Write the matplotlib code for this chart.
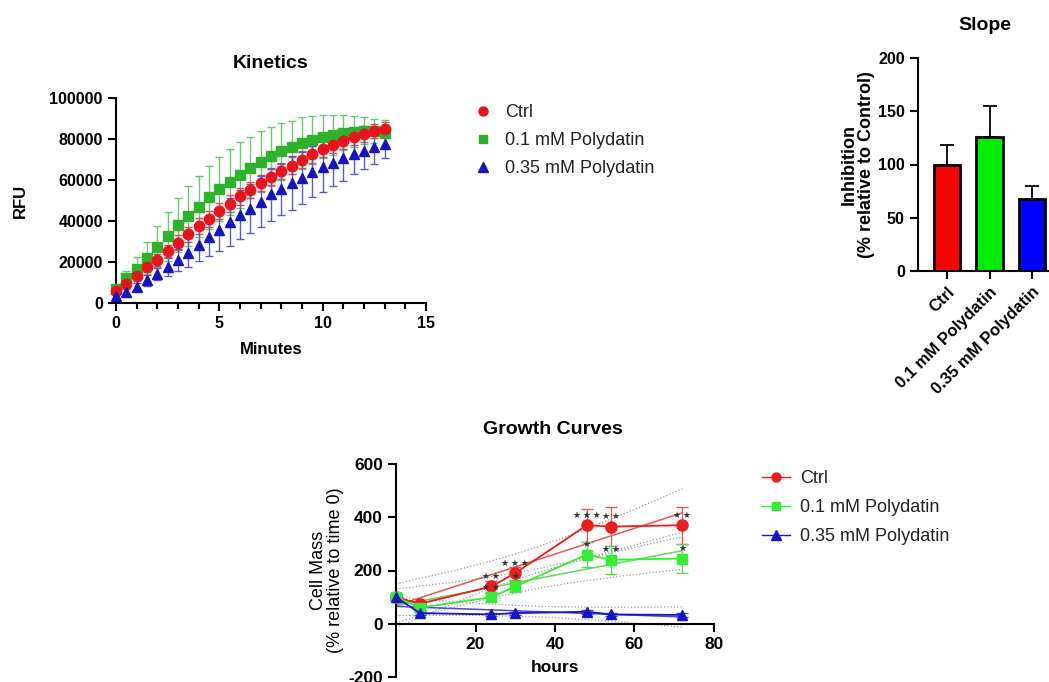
import numpy as np
import matplotlib
matplotlib.use("Agg")
import matplotlib.pyplot as plt
from matplotlib.lines import Line2D
from matplotlib.ticker import MultipleLocator

plt.rcParams['font.family'] = ['Liberation Sans', 'DejaVu Sans']
plt.rcParams['axes.unicode_minus'] = False

# ---- kinetics data ----
minutes = [0, 0.5, 1, 1.5, 2, 2.5, 3, 3.5, 4, 4.5, 5, 5.5, 6, 6.5,
           7, 7.5, 8, 8.5, 9, 9.5, 10, 10.5, 11, 11.5, 12, 12.5, 13]
ctrl_k = [6000, 9500, 13000, 17500, 21000, 25500, 29500, 33500, 37500, 41000,
          45000, 48500, 52000, 55000, 58500, 61500, 64500, 67000, 70000, 72500,
          75000, 77000, 79000, 81000, 82500, 84000, 85000]
ctrl_k_sd = [1000, 1500, 2000, 2500, 3000, 3000, 3500, 3500, 4000, 4000, 4000,
             4000, 4000, 4000, 4000, 4000, 4000, 4000, 4000, 4000, 4000, 4000,
             4000, 4000, 4000, 3500, 3500]
pd01_k = [7000, 12000, 16500, 22000, 27500, 32500, 38000, 42500, 47000, 51500,
          55500, 59000, 62500, 66000, 69000, 71500, 74000, 76000, 78000, 79500,
          81000, 82000, 83000, 83500, 84000, 84000, 83000]
pd01_k_sd = [2000, 3500, 6000, 8000, 10000, 12000, 13000, 14500, 15000, 15500,
             15500, 16000, 16000, 15000, 15000, 14500, 14000, 13000, 12500,
             11500, 10500, 9700, 8500, 7500, 6500, 6000, 6500]
pd035_k = [3500, 5500, 8000, 11000, 14000, 17500, 21000, 24500, 28500, 32000,
           35500, 39500, 43000, 46000, 49500, 53000, 55500, 58500, 61000, 64000,
           66500, 68500, 70500, 72500, 74000, 76000, 77500]
pd035_k_sd = [1000, 1500, 2000, 2500, 3000, 4500, 5500, 7000, 8000, 9000, 10000,
              11500, 12000, 12000, 12500, 13000, 12500, 13000, 12500, 12500,
              12500, 11500, 11000, 9500, 8500, 8000, 7000]

# ---- slope data ----
groups = ['Ctrl', '0.1 mM Polydatin', '0.35 mM Polydatin']
slope = [100, 126, 68]
slope_sd = [18, 29, 12]

# ---- growth data ----
hours = [0, 6, 24, 30, 48, 54, 72]
ctrl_g = [100, 75, 140, 190, 370, 365, 370]
ctrl_g_sd = [12, 10, 22, 25, 62, 72, 70]
pd01_g = [100, 60, 100, 140, 260, 240, 245]
pd01_g_sd = [12, 10, 15, 20, 48, 52, 55]
pd035_g = [100, 40, 35, 40, 45, 35, 33]
pd035_g_sd = [12, 8, 6, 6, 8, 6, 6]
ctrl_stars = [0, 0, 2, 3, 3, 2, 2]
pd01_stars = [0, 0, 2, 1, 1, 2, 1]

W, H = 1049, 682
fig = plt.figure(figsize=(W / 100, H / 100), dpi=100)


def box(x0, y0, x1, y1):
    return [x0 / W, 1 - y1 / H, (x1 - x0) / W, (y1 - y0) / H]


def style(ax, fs):
    for s in ['top', 'right']:
        ax.spines[s].set_visible(False)
    for s in ['left', 'bottom']:
        ax.spines[s].set_linewidth(1.5)
    ax.tick_params(width=1.5, length=6, labelsize=fs)
    for lab in ax.get_xticklabels() + ax.get_yticklabels():
        lab.set_fontweight('bold')
        lab.set_fontsize(fs)


# ================= Kinetics =================
ax1 = fig.add_axes(box(116, 98, 426, 303))
kin = [(pd01_k, pd01_k_sd, 's', '#2DB22D', '#6CC86C', 6.5),
       (ctrl_k, ctrl_k_sd, 'o', '#E8141C', '#D85050', 7.5),
       (pd035_k, pd035_k_sd, '^', '#1414C0', '#5A5AC8', 7)]
for y, sd, m, c, ec, ms in kin:
    ax1.errorbar(minutes, y, yerr=sd, fmt=m, color=c, ecolor=ec, ms=ms,
                 elinewidth=1, capsize=3, capthick=1, clip_on=False, zorder=3)
ax1.set_xlim(0, 15)
ax1.set_ylim(0, 100000)
ax1.set_xticks([0, 5, 10, 15])
ax1.xaxis.set_minor_locator(MultipleLocator(1))
ax1.set_yticks([0, 20000, 40000, 60000, 80000, 100000])
ax1.set_yticklabels(['0', '20000', '40000', '60000', '80000', '100000'])
style(ax1, 11.5)
ax1.tick_params(which='minor', width=1.5, length=4)
ax1.set_xlabel('Minutes', fontsize=12, fontweight='bold', va='center')
ax1.xaxis.set_label_coords(0.5, (303 - 349) / 205)
ax1.set_ylabel('RFU', fontsize=12, fontweight='bold', va='center')
ax1.yaxis.set_label_coords((20 - 116) / 310, 0.5)
fig.text(271 / W, 1 - 63 / H, 'Kinetics', fontsize=14, fontweight='bold',
         ha='center', va='center')

h1 = [Line2D([], [], ls='none', marker='o', color='#E8141C', ms=6.5),
      Line2D([], [], ls='none', marker='s', color='#2DB22D', ms=6),
      Line2D([], [], ls='none', marker='^', color='#1414C0', ms=6.5)]
fig.legend(h1, groups, loc='upper left', bbox_to_anchor=(474 / W, 1 - 104 / H),
           frameon=False, fontsize=13, handlelength=1, handletextpad=0.7,
           labelspacing=0.62, borderpad=0, borderaxespad=0, labelcolor='#222222')

# ================= Slope =================
ax2 = fig.add_axes(box(918, 58, 1061, 271))
xb = np.arange(len(groups))
ax2.bar(xb, slope, width=0.63, color=['#FF0000', '#00EE00', '#0000FF'],
        edgecolor='black', linewidth=2, zorder=2)
ax2.errorbar(xb, slope, yerr=[[0, 0, 0], slope_sd], fmt='none', ecolor='black',
             elinewidth=1.3, capsize=5, capthick=1.3, zorder=1)
ax2.set_xlim(-0.68, 2.68)
ax2.set_ylim(0, 200)
ax2.set_yticks([0, 50, 100, 150, 200])
ax2.set_xticks(xb)
ax2.set_xticklabels(groups, rotation=45, ha='right', rotation_mode='anchor')
style(ax2, 11.5)
for lab in ax2.get_xticklabels():
    lab.set_fontsize(12)
ax2.set_ylabel('Inhibition\n(% relative to Control)', fontsize=13,
               fontweight='bold', va='center', linespacing=1.0)
ax2.yaxis.set_label_coords((858 - 918) / 143, 0.5)
fig.text(985 / W, 1 - 25 / H, 'Slope', fontsize=14, fontweight='bold',
         ha='center', va='center')

# ================= Growth curves =================
ax3 = fig.add_axes(box(396, 464, 714, 677))
hx = np.array(hours, dtype=float)
xf = np.linspace(0, 72, 100)
t975 = 2.571  # t(0.975, df=5)
grow = [(ctrl_g, ctrl_g_sd, 'o', '#EE1C1C', '#E05A5A', 8),
        (pd01_g, pd01_g_sd, 's', '#33EE33', '#5FD85F', 7.5),
        (pd035_g, pd035_g_sd, '^', '#1515C8', '#4A4AD0', 7)]
for y, sd, m, c, ec, ms in grow:
    y = np.array(y, dtype=float)
    b, a = np.polyfit(hx, y, 1)
    res = y - (a + b * hx)
    s = np.sqrt(np.sum(res ** 2) / (len(hx) - 2))
    se = s * np.sqrt(1 / len(hx) + (xf - hx.mean()) ** 2 / np.sum((hx - hx.mean()) ** 2))
    yf = a + b * xf
    ax3.plot(xf, yf + t975 * se, ls=':', color='#9a9a9a', lw=0.9, zorder=1)
    ax3.plot(xf, yf - t975 * se, ls=':', color='#9a9a9a', lw=0.9, zorder=1)
    ax3.plot(xf, yf, color=ec, lw=1.1, zorder=2)
    ax3.errorbar(hx, y, yerr=sd, fmt='-' + m, color=c, ecolor=ec, ms=ms, lw=1.3,
                 elinewidth=1, capsize=4, capthick=1, clip_on=False, zorder=3)

# significance stars
for vals, nstars in [(ctrl_g, ctrl_stars), (pd01_g, pd01_stars)]:
    for xs, y, n in zip(hours, vals, nstars):
        if n:
            ax3.text(xs, y + 38, '\u2009'.join(['\u2605'] * n), ha='center',
                     va='center', fontsize=6.5, family='DejaVu Sans',
                     color='#333333', zorder=5)

ax3.set_xlim(0, 80)
ax3.set_ylim(-200, 600)
ax3.spines['bottom'].set_position(('data', 0))
ax3.set_xticks([20, 40, 60, 80])
ax3.set_yticks([-200, 0, 200, 400, 600])
style(ax3, 12.5)
ax3.set_xlabel('hours', fontsize=12.5, fontweight='bold', va='center')
ax3.xaxis.set_label_coords(0.5, (677 - 668) / 213)
ax3.set_ylabel('Cell Mass\n(% relative to time 0)', fontsize=13, va='center',
               linespacing=1.0)
ax3.yaxis.set_label_coords((327 - 396) / 318, 0.5)
fig.text(553 / W, 1 - 430 / H, 'Growth Curves', fontsize=14, fontweight='bold',
         ha='center', va='center')

h3 = [Line2D([], [], marker='o', color='#EE1C1C', ms=6.5, lw=1),
      Line2D([], [], marker='s', color='#33EE33', ms=6, lw=1),
      Line2D([], [], marker='^', color='#1515C8', ms=6.5, lw=1)]
fig.legend(h3, groups, loc='upper left', bbox_to_anchor=(762 / W, 1 - 470 / H),
           frameon=False, fontsize=13, handlelength=1.55, handletextpad=0.55,
           labelspacing=0.66, borderpad=0, borderaxespad=0, labelcolor='#222222')

fig.savefig('out.png', dpi=100)
